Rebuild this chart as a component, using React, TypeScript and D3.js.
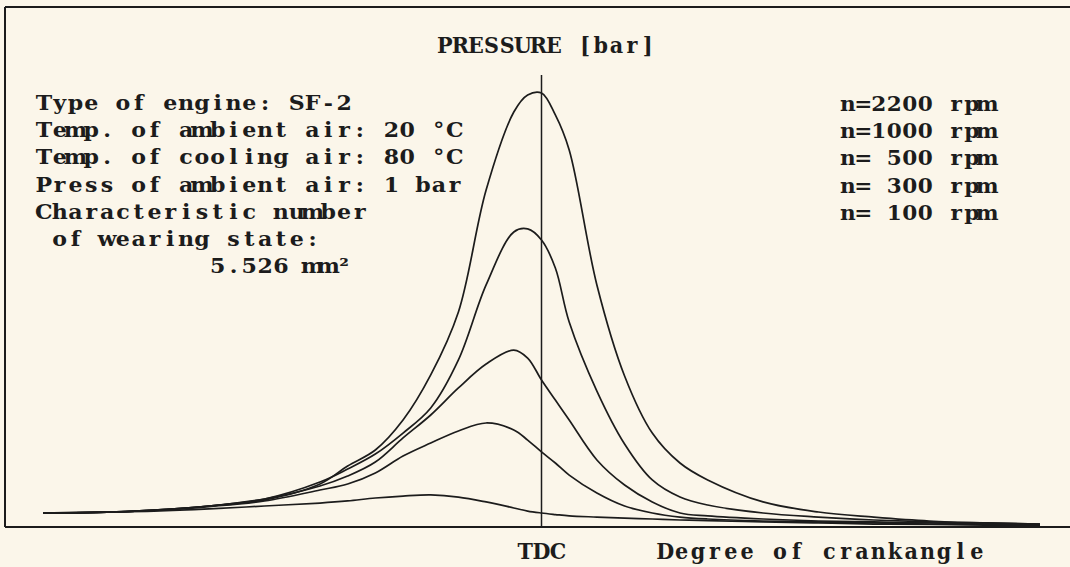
import React from "react";
import * as d3 from "d3";

// Crank angle grid in degrees relative to top dead centre (TDC = 0)
const crankAngle = [-180, -160, -140, -120, -100, -80, -70, -60, -50, -40, -30, -20, -10, -5, 0, 5, 10, 20, 30, 40, 50, 60, 80, 100, 120, 140, 160, 180];

// Cylinder pressure [bar] at each crank angle, one array per engine speed
const p2200 = [1.0, 1.04, 1.21, 1.5, 1.93, 3.07, 4.36, 5.5, 7.64, 10.86, 15.36, 24.07, 29.64, 30.86, 31.0, 29.43, 26.93, 17.29, 10.79, 6.71, 4.57, 3.36, 1.79, 1.07, 0.71, 0.43, 0.29, 0.21];
const p1000 = [1.0, 1.04, 1.21, 1.5, 2.0, 3.21, 4.14, 5.21, 6.71, 8.5, 11.93, 17.29, 21.07, 21.29, 20.5, 18.5, 14.64, 9.71, 5.93, 3.36, 2.14, 1.57, 1.0, 0.71, 0.5, 0.36, 0.29, 0.21];
const p500 = [1.0, 1.04, 1.21, 1.5, 2.0, 2.93, 3.64, 4.64, 6.36, 8.0, 9.93, 11.64, 12.64, 12.07, 10.5, 9.07, 7.64, 4.79, 3.0, 1.79, 1.0, 0.79, 0.57, 0.43, 0.36, 0.29, 0.21, 0.18];
const p300 = [1.0, 1.04, 1.18, 1.46, 1.86, 2.64, 3.07, 3.86, 5.07, 6.0, 6.86, 7.43, 6.93, 6.21, 5.36, 4.57, 3.71, 2.43, 1.5, 1.0, 0.71, 0.57, 0.43, 0.36, 0.29, 0.21, 0.18, 0.14];
const p100 = [1.0, 1.07, 1.14, 1.29, 1.5, 1.71, 1.86, 2.07, 2.21, 2.29, 2.14, 1.79, 1.36, 1.14, 1.0, 0.89, 0.79, 0.71, 0.64, 0.57, 0.5, 0.46, 0.36, 0.29, 0.21, 0.18, 0.14, 0.14];

const series = [p2200, p1000, p500, p300, p100];

const speedLabels = ["n=2200 rpm", "n=1000 rpm", "n= 500 rpm", "n= 300 rpm", "n= 100 rpm"];

const infoLines = [
  "Type of engine: SF-2",
  "Temp. of ambient air: 20 °C",
  "Temp. of cooling air: 80 °C",
  "Press of ambient air: 1 bar",
  "Characteristic number",
  " of wearing state:",
  "           5.526 mm²",
];

const title = "PRESSURE [bar]";
const tdcLabel = "TDC";
const xAxisLabel = "Degree of crankangle";

// Character-cell layout: every glyph is centred in a fixed-width cell,
// like a text-mode printout. Positions are given in the (possibly
// horizontally stretched) text coordinate system.
function cellCentres(text: string, x0: number, cell: number, sx = 1): string {
  return Array.from(text)
    .map((_, i) => ((x0 + cell * i + cell / 2) / sx).toFixed(2))
    .join(" ");
}

export default function App() {
  const W = 1070;
  const H = 567;
  const baseY = 527;
  const frameLeft = 5;
  const frameTop = 7;
  const ink = "#1c1c1c";
  const serif = "'DejaVu Serif Condensed', 'DejaVu Serif', serif";

  const x = d3.scaleLinear().domain([-180, 180]).range([43, 1040]);
  const y = d3.scaleLinear().domain([0, 32]).range([baseY, 79]);

  const line = d3
    .line<number>()
    .x((_, i) => x(crankAngle[i]))
    .y((d) => y(d))
    .curve(d3.curveCatmullRom.alpha(0.5));

  const lineH = 27.2;
  const cell = 15.8;
  const sx = 1.17; // horizontal stretch of the printout font

  const textStyle = { whiteSpace: "pre" as const };

  return (
    <div style={{ position: "fixed", left: 0, top: 0, width: W, height: H }}>
      <svg width={W} height={H} style={{ display: "block" }}>
        <rect x={0} y={0} width={W} height={H} fill="#fbf6ea" />

        {/* frame: top edge, left edge and the crank-angle axis */}
        <line x1={frameLeft} y1={frameTop} x2={W} y2={frameTop} stroke={ink} strokeWidth={2.2} />
        <line x1={frameLeft} y1={frameTop} x2={frameLeft} y2={baseY} stroke={ink} strokeWidth={2} />
        <line x1={frameLeft} y1={baseY} x2={W} y2={baseY} stroke={ink} strokeWidth={2} />

        {/* TDC marker */}
        <line x1={x(0)} y1={75} x2={x(0)} y2={baseY} stroke={ink} strokeWidth={1.5} />

        {/* pressure curves */}
        {series.map((s, i) => (
          <path key={i} d={line(s) || ""} fill="none" stroke={ink} strokeWidth={1.7} strokeLinejoin="round" />
        ))}

        {/* title */}
        <text
          x={cellCentres(title, 437, 15.6)}
          y={53}
          textAnchor="middle"
          fontFamily={serif}
          fontWeight="bold"
          fontSize={23}
          fill={ink}
          style={textStyle}
        >
          {title}
        </text>

        {/* engine info block */}
        <g transform={`scale(${sx},1)`}>
          {infoLines.map((t, i) => (
            <text
              key={i}
              x={cellCentres(t, 36, cell, sx)}
              y={110 + i * lineH}
              textAnchor="middle"
              fontFamily={serif}
              fontWeight="bold"
              fontSize={21}
              fill={ink}
              style={textStyle}
            >
              {t}
            </text>
          ))}

          {/* speed legend */}
          {speedLabels.map((t, i) => (
            <text
              key={i}
              x={cellCentres(t, 840, 15.5, sx)}
              y={111 + i * lineH}
              textAnchor="middle"
              fontFamily={serif}
              fontWeight="bold"
              fontSize={20.5}
              fill={ink}
              style={textStyle}
            >
              {t}
            </text>
          ))}
        </g>

        {/* axis labels */}
        <text
          x={cellCentres(tdcLabel, x(0) - 24.6, 16.4)}
          y={559}
          textAnchor="middle"
          fontFamily={serif}
          fontWeight="bold"
          fontSize={23}
          fill={ink}
          style={textStyle}
        >
          {tdcLabel}
        </text>
        <text
          x={cellCentres(xAxisLabel, 657, 16.4)}
          y={559}
          textAnchor="middle"
          fontFamily={serif}
          fontWeight="bold"
          fontSize={23}
          fill={ink}
          style={textStyle}
        >
          {xAxisLabel}
        </text>
      </svg>
    </div>
  );
}
